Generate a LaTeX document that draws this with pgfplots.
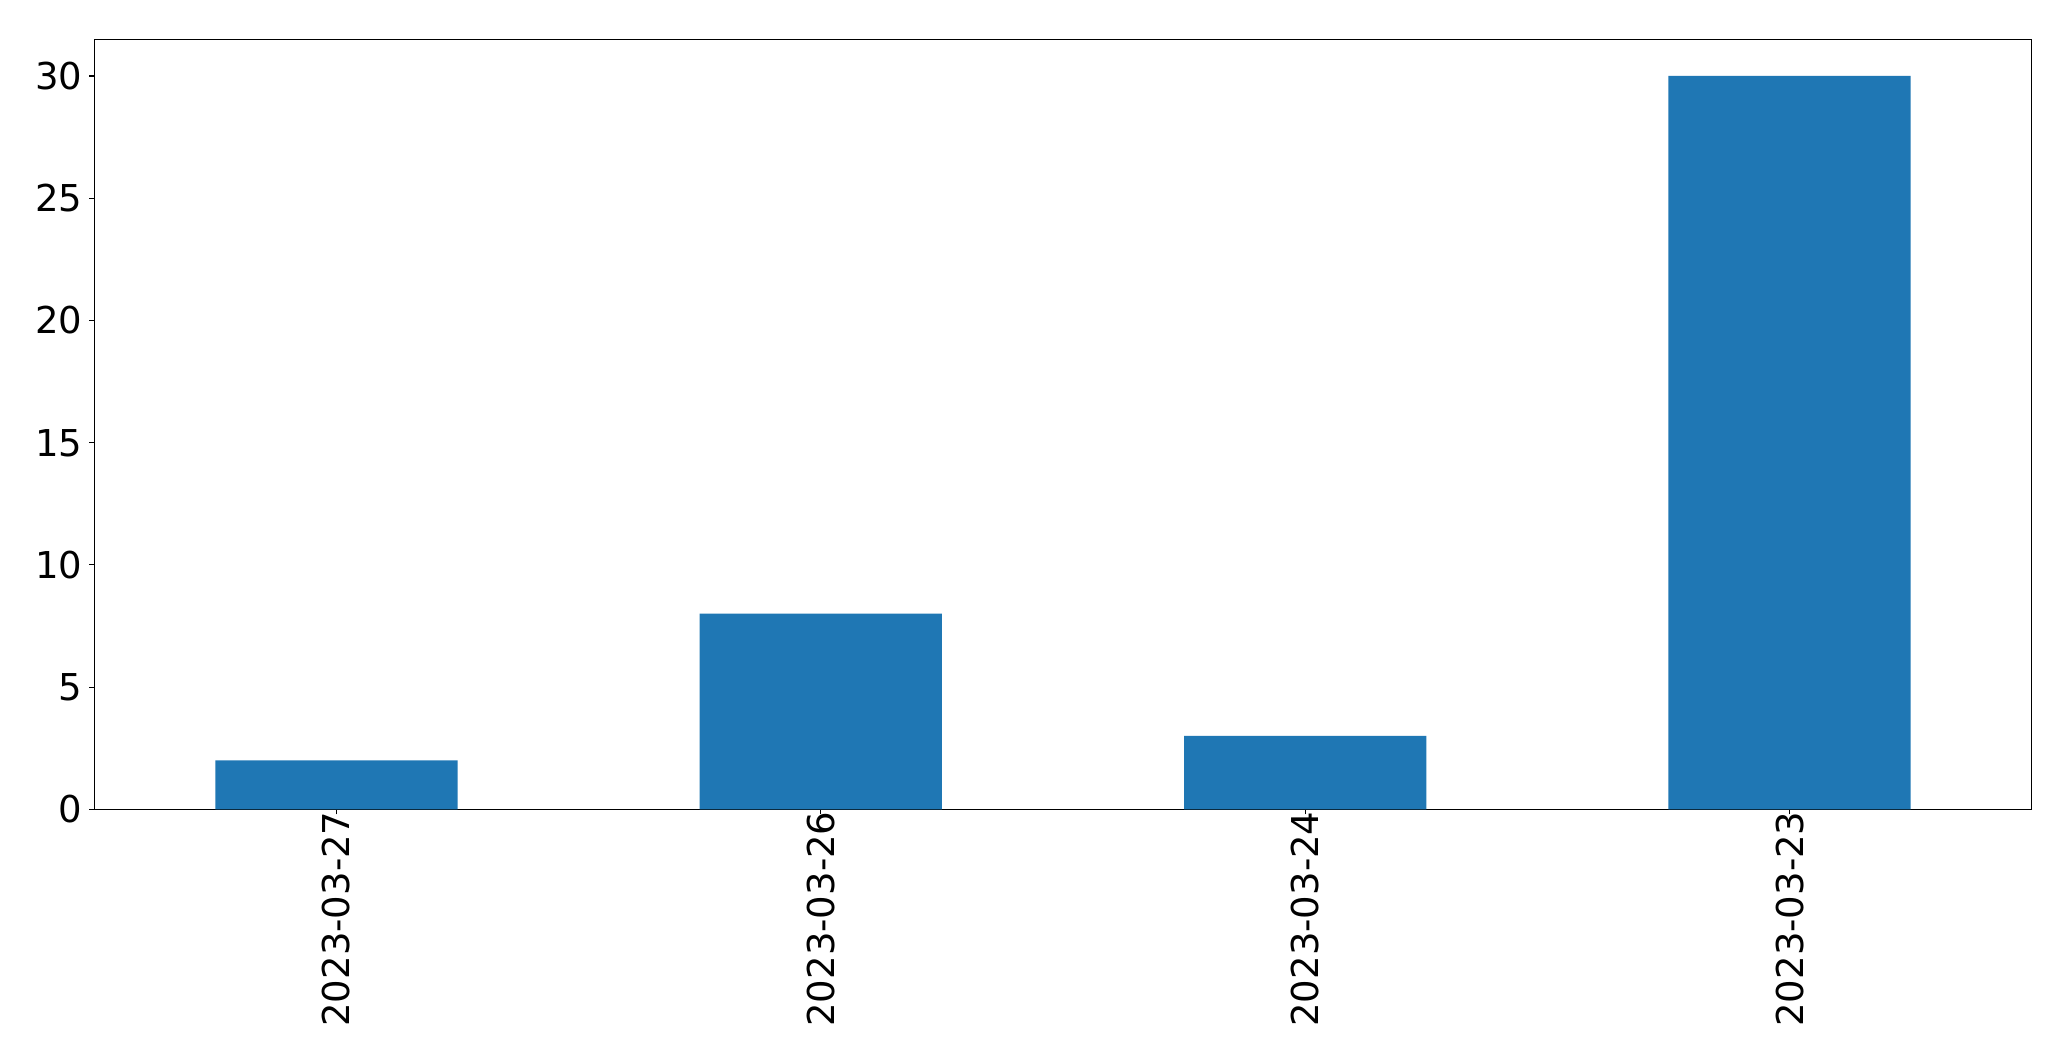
\documentclass[border=0pt]{standalone}
\usepackage{fontspec}
\setmainfont{DejaVu Sans}
\usepackage{pgfplots}
\pgfplotsset{compat=1.18}
\definecolor{mplblue}{HTML}{1F77B4}
\begin{document}
\begin{tikzpicture}
\begin{axis}[
  scale only axis,
  width=1937.4bp, height=770bp,
  xmin=-0.5, xmax=3.5,
  ymin=0, ymax=31.5,
  xtick={0,1,2,3},
  xticklabels={2023-03-27,2023-03-26,2023-03-24,2023-03-23},
  ytick={0,5,10,15,20,25,30},
  tick align=outside,
  major tick length=5bp,
  tick style={line width=1.1bp, black},
  axis line style={line width=1.1bp},
  xtick pos=bottom, ytick pos=left,
  /pgf/number format/assume math mode=true,
  ticklabel style={font=\fontsize{37bp}{44bp}\selectfont, text height=27bp, text depth=0bp},
  xticklabel style={rotate=90, anchor=east, inner sep=0pt, xshift=3bp},
  yticklabel style={inner sep=0pt, xshift=-7bp},
  axis background/.style={fill=white},
]
\addplot[ybar, bar width=0.5, fill=mplblue, draw=none] coordinates {(0,2) (1,8) (2,3) (3,30)};
\end{axis}
\pgfresetboundingbox
\path[use as bounding box] (-94.3bp,-251.7bp) rectangle (1976.7bp,809.3bp);
\end{tikzpicture}
\end{document}
